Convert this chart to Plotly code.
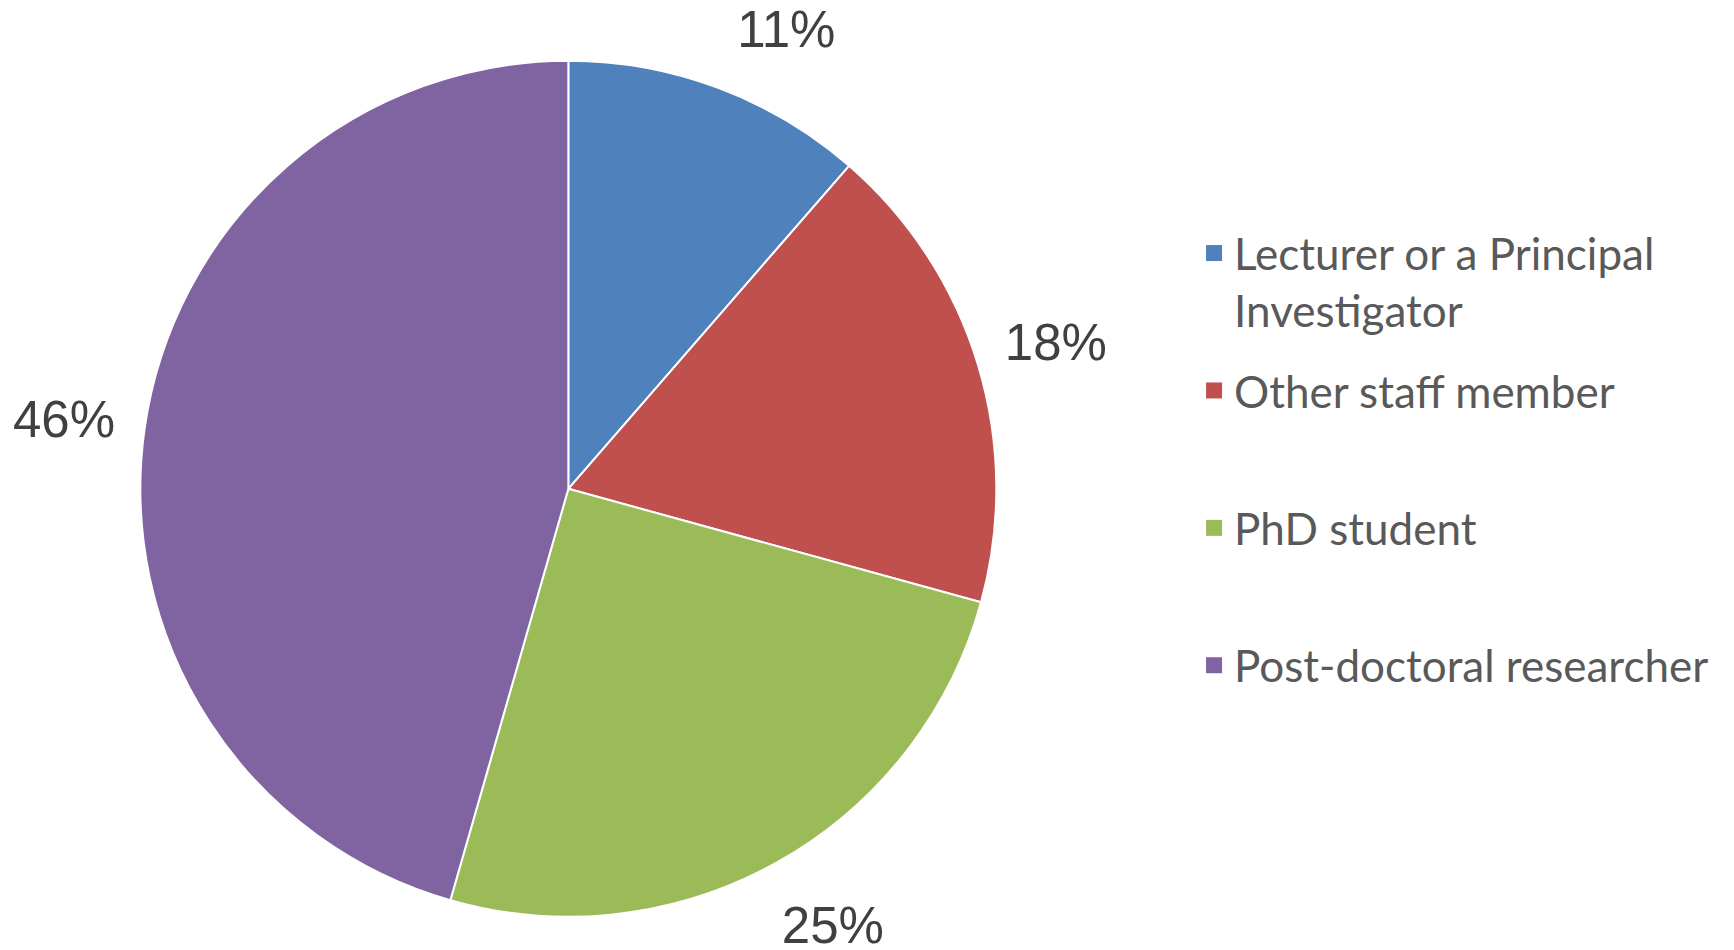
import math
import plotly.graph_objects as go

# Data
categories = ["Lecturer or a Principal Investigator", "Other staff member",
              "PhD student", "Post-doctoral researcher"]
legend_labels = ["Lecturer or a Principal<br>Investigator", "Other staff member<br> ",
                 "PhD student<br> ", "Post-doctoral researcher<br> "]
shares = [11.4, 17.9, 25.2, 45.6]
colors = ["#4F81BD", "#C0504D", "#9BBB59", "#8064A2"]

W, H = 1734, 950
PIE_X = [0.0763, 0.5700]
PIE_Y = [0.0434, 0.9444]
LABEL_RADIUS = 1.19          # label distance, in units of the pie radius
LABEL_TOP_LIMIT = 20.5       # px from figure top: labels slide along their circle to stay inside
LABEL_BOTTOM_LIMIT = 916.0   # px from figure top
TEXT_SHIFT_PX = 6.0          # downward nudge so glyphs sit centred on their anchor

# hidden cartesian axes whose unit equals the pie radius, centred on the pie
cx = (PIE_X[0] + PIE_X[1]) / 2 * W
cy = (PIE_Y[0] + PIE_Y[1]) / 2 * H
R = min((PIE_X[1] - PIE_X[0]) * W, (PIE_Y[1] - PIE_Y[0]) * H) / 2
x_range = [(0 - cx) / R, (W - cx) / R]
y_range = [(0 - cy) / R, (H - cy) / R]

# label placement derived from the data: mid-angle of every slice (clockwise from 12 o'clock)
total = sum(shares)
rho = LABEL_RADIUS * R
centre_from_top = H - cy
lab_x, lab_y, pct_text = [], [], []
acc = 0.0
for s in shares:
    ang = 2 * math.pi * (acc + s / 2) / total
    y_top = centre_from_top - rho * math.cos(ang)
    limit = None
    if y_top < LABEL_TOP_LIMIT:
        limit = LABEL_TOP_LIMIT
    elif y_top > LABEL_BOTTOM_LIMIT:
        limit = LABEL_BOTTOM_LIMIT
    if limit is not None:
        a = math.acos((centre_from_top - limit) / rho)
        ang = a if ang < math.pi else 2 * math.pi - a
    lab_x.append(LABEL_RADIUS * math.sin(ang))
    lab_y.append(LABEL_RADIUS * math.cos(ang) - TEXT_SHIFT_PX / R)
    pct_text.append(f"{round(100 * s / total)}%")
    acc += s

fig = go.Figure()

fig.add_trace(go.Pie(
    labels=categories,
    values=shares,
    sort=False,
    direction="clockwise",
    rotation=0,
    marker=dict(colors=colors, line=dict(color="white", width=2)),
    textinfo="none",
    domain=dict(x=PIE_X, y=PIE_Y),
    showlegend=False,
    hoverinfo="label+percent",
))

# percentage labels outside the slices
fig.add_trace(go.Scatter(
    x=lab_x, y=lab_y,
    mode="text",
    text=pct_text,
    textfont=dict(family="Liberation Sans, Arial, sans-serif", size=51, color="#404040"),
    textposition="middle center",
    cliponaxis=False,
    showlegend=False,
    hoverinfo="skip",
))

# legend entries (one per category, same colours as the slices)
for name, col in zip(legend_labels, colors):
    fig.add_trace(go.Scatter(
        x=[None], y=[None], mode="markers", name=name, legendgroup=name,
        marker=dict(symbol="square", size=16, color=col),
        showlegend=True, hoverinfo="skip",
    ))

fig.update_layout(
    width=W, height=H,
    margin=dict(l=0, r=0, t=0, b=0),
    paper_bgcolor="white", plot_bgcolor="rgba(0,0,0,0)",
    xaxis=dict(visible=False, domain=[0, 1], range=x_range, fixedrange=True),
    yaxis=dict(visible=False, domain=[0, 1], range=y_range, fixedrange=True),
    legend=dict(
        x=0.684, y=0.779, xanchor="left", yanchor="top",
        font=dict(family="Lato, Carlito, sans-serif", size=44, color="#595959"),
        valign="top", traceorder="grouped", tracegroupgap=20,
        bgcolor="rgba(0,0,0,0)",
    ),
)

fig.write_html("out.html")
